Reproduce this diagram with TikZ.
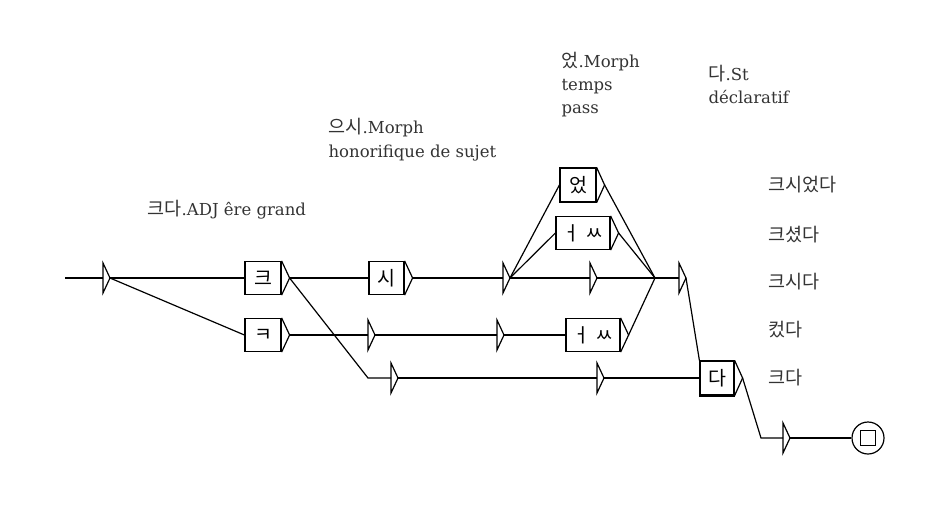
\documentclass[tikz,border=0pt]{standalone}
\usepackage{fontspec}
\setmainfont{DejaVu Serif}
\newfontfamily\kr{Noto Sans CJK KR}
\newcommand\krl[1]{{\kr\fontsize{18.5}{18.5}\selectfont #1}}
\usetikzlibrary{calc}
\newcommand\ttri[2]{\coordinate (#1) at (#2); \coordinate (#1i) at ($(#1)+(-7,0)$);
  \draw (#1) -- ++(-7,-15) -- ++(0,30) -- cycle;}
\newcommand\btri[2]{\coordinate (#2) at ($(#1.east)+(8,0)$);
  \draw (#1.north east) -- (#2) -- (#1.south east);}
\begin{document}
\begin{tikzpicture}[x=1pt,y=-1pt, line width=1.2pt,
  fbox/.style={draw, rectangle, minimum height=33, inner sep=0pt, font=\kr\fontsize{19.5}{19.5}\selectfont},
  lab/.style={anchor=base west, inner sep=0pt, font=\fontsize{16.5}{16.5}\selectfont, text=black!80},
  outw/.style={anchor=west, inner sep=0pt, font=\kr\fontsize{18.5}{18.5}\selectfont, text=black!80}]
\useasboundingbox (0,0) rectangle (951,517);
\fill[white] (0,0) rectangle (951,517);
% boxes
\node[fbox, minimum width=36] (k1) at (263,278) {크};
\node[fbox, minimum width=36] (k2) at (263,335) {ㅋ};
\node[fbox, minimum width=35] (si) at (386.5,278) {시};
\node[fbox, minimum width=36, minimum height=34] (eot) at (578,185) {었};
\node[fbox, minimum width=54] (eo1) at (583,233) {ㅓ ㅆ};
\node[fbox, minimum width=54] (eo2) at (593,335) {ㅓ ㅆ};
\node[fbox, minimum width=34, minimum height=34] (da) at (717,378) {다};
\draw[line width=2.4pt] (da.south west) -- (da.south east);
% triangles
\btri{k1}{k1t} \btri{k2}{k2t} \btri{si}{sit} \btri{eot}{eott}
\btri{eo1}{eo1t} \btri{eo2}{eo2t} \btri{da}{dat}
\ttri{t0}{110,278}
\ttri{a1}{510,278} \ttri{a2}{597,278} \ttri{a3}{686,278}
\ttri{b1}{375,335} \ttri{b2}{504,335}
\ttri{c1}{398,378} \ttri{c2}{604,378}
\ttri{d1}{790,438}
\coordinate (s) at (65,278);
\coordinate (m) at (655,278);
\coordinate (bend1) at (368,378);
\coordinate (bend2) at (761,438);
% final state
\node[draw, circle, minimum size=32, inner sep=0pt] (fin) at (868,438) {};
\node[draw, minimum size=15, inner sep=0pt] (finsq) at (fin.center) {};
% connectors
\draw (s) -- (t0i);
\draw (t0) -- (k1.west);
\draw (t0) -- (k2.west);
\draw (k1t) -- (si.west);
\draw (k1t) -- (bend1) -- (c1i);
\draw (k2t) -- (b1i);
\draw (sit) -- (a1i);
\draw (a1) -- (a2i);
\draw (a2) -- (m) -- (a3i);
\draw (a1) -- (eot.west);
\draw (a1) -- (eo1.west);
\draw (eott) -- (m);
\draw (eo1t) -- (m);
\draw (b1) -- (b2i);
\draw (b2) -- (eo2.west);
\draw (eo2t) -- (m);
\draw (c1) -- (c2i);
\draw (c2) -- (da.west);
\draw (a3) -- (da.north west);
\draw (dat) -- (bend2) -- (d1i);
\draw (d1) -- (fin.west);
% labels
\node[lab] (l1) at (147,215) {\krl{크다}.ADJ êre grand};
\node[lab] (l2a) at (328,133) {\krl{으시}.Morph};
\node[lab] (l2b) at (328,157) {honorifique de sujet};
\node[lab] (l3a) at (561,67) {\krl{었}.Morph};
\node[lab] (l3b) at (561,90) {temps};
\node[lab] (l3c) at (561,113) {pass};
\node[lab] (l4a) at (708,80) {\krl{다}.St};
\node[lab] (l4b) at (708,103) {déclaratif};
\node[outw] (o1) at (768,185) {크시었다};
\node[outw] (o2) at (768,235) {크셨다};
\node[outw] (o3) at (768,282) {크시다};
\node[outw] (o4) at (768,330) {컸다};
\node[outw] (o5) at (768,378) {크다};
\end{tikzpicture}
\end{document}
